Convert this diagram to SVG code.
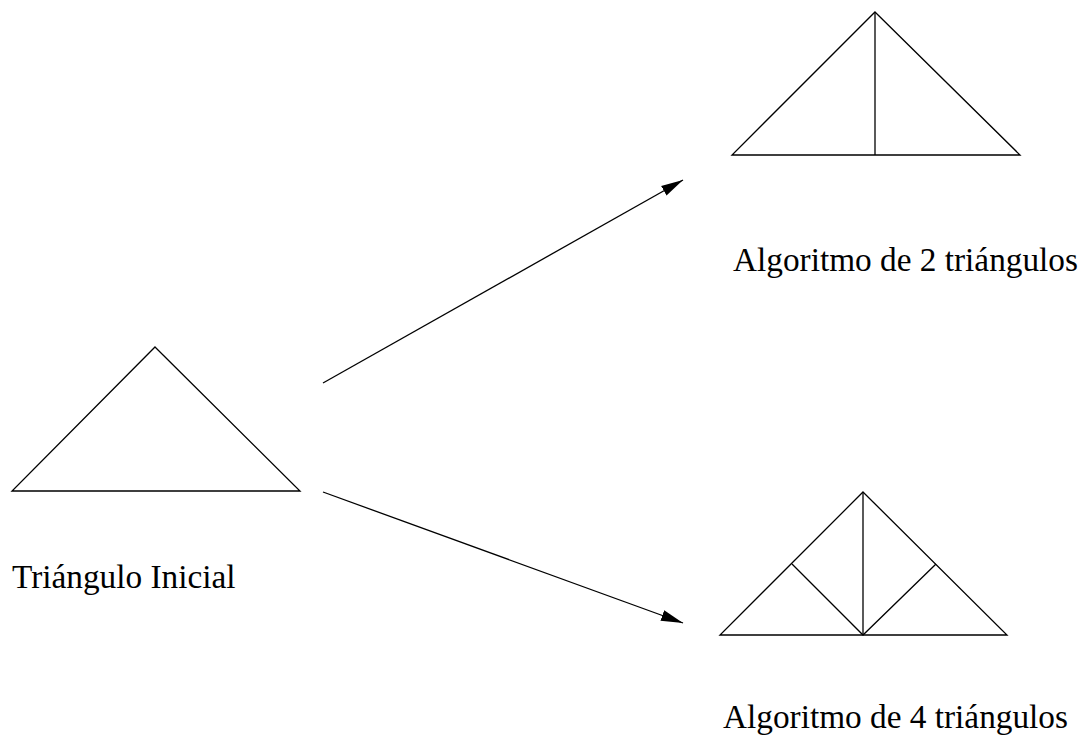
<svg xmlns="http://www.w3.org/2000/svg" width="1081" height="736" viewBox="0 0 1081 736">
<style>
.s{fill:none;stroke:#000;stroke-width:1.3;stroke-linejoin:miter}
.t{font-family:"Liberation Serif","Times New Roman",serif;font-size:33.3px;fill:#000}
</style>
<defs>
<marker id="ah" markerUnits="userSpaceOnUse" markerWidth="22" markerHeight="12" refX="20" refY="5" orient="auto" viewBox="0 0 20 10">
<path d="M0,0 L20,5 L0,10 Z" fill="#000"/>
</marker>
</defs>
<rect width="1081" height="736" fill="#fff"/>
<g id="inicial">
<polygon class="s" points="155,347 300,491 12,491"/>
<text class="t" x="12" y="588">Triángulo Inicial</text>
</g>
<g id="dos">
<polygon class="s" points="875,12 1020,155 732,155"/>
<line class="s" x1="875" y1="12" x2="875" y2="155"/>
<text class="t" x="733" y="271">Algoritmo de 2 triángulos</text>
</g>
<g id="cuatro">
<polygon class="s" points="863,492 1007,635 720,635"/>
<line class="s" x1="863" y1="492" x2="863" y2="635"/>
<polyline class="s" points="792,564 863,635 936,564"/>
<text class="t" x="723" y="728">Algoritmo de 4 triángulos</text>
</g>
<g id="connectors">
<line class="s" x1="323" y1="383" x2="683" y2="180" marker-end="url(#ah)"/>
<line class="s" x1="323" y1="492" x2="683" y2="623" marker-end="url(#ah)"/>
</g>
</svg>
